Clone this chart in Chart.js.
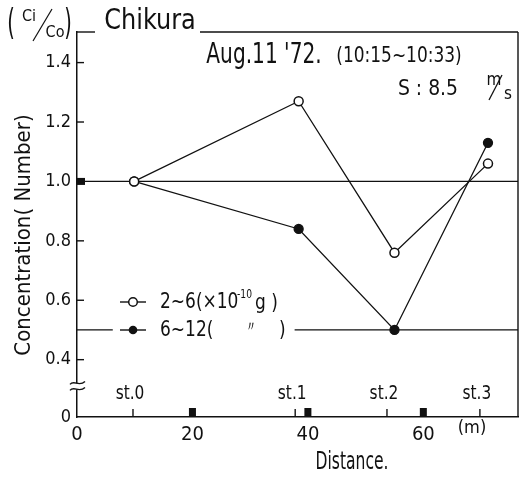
<!DOCTYPE html>
<html>
<head>
<meta charset="utf-8">
<script src="https://cdn.jsdelivr.net/npm/chart.js@4.4.1/dist/chart.umd.min.js"></script>
<style>
  html, body { margin: 0; padding: 0; background: #fff; }
  #wrap { width: 529px; height: 477px; }
</style>
</head>
<body>
<div id="wrap"><canvas id="chart" width="529" height="477"></canvas></div>
<script>
// Stations along the line (m)
const stations = ["st.0", "st.1", "st.2", "st.3"];
const stationDist = [9.7, 37.8, 53.7, 69.8];
const pointDist = [9.9, 38.4, 55.0, 71.2];

// Ci/Co for the two size classes
const small = [1.0, 1.27, 0.76, 1.06];   // 2~6 (x10^-10 g)
const large = [1.0, 0.84, 0.50, 1.13];   // 6~12

// Axes
const yTicks = [0.4, 0.6, 0.8, 1.0, 1.2, 1.4];
const xTicks = [0, 20, 40, 60];
const xMarks = [20, 40, 60];
const yMin = 0.207, yMax = 1.503;
const xMin = 0, xMax = 76.4;
const breakAt = 0.31;

// Reference lines (the 0.5 one is broken by the legend)
const refOne = [{ x: xMin, y: 1.0 }, { x: xMax, y: 1.0 }];
const refHalf = [{ x: xMin, y: 0.5 }, { x: 6.2, y: 0.5 }, { x: 6.3, y: null }, { x: 37.7, y: 0.5 }, { x: xMax, y: 0.5 }];

const FONT = '"DejaVu Sans Condensed", "DejaVu Sans", sans-serif';
const ink = "#111";

function pts(xs, ys) {
  return xs.map((x, i) => ({ x: x, y: ys[i] }));
}

function txt(ctx, s, x, y, size, opts = {}) {
  ctx.save();
  ctx.font = `${size}px ${FONT}`;
  ctx.fillStyle = ink;
  ctx.textAlign = opts.align || "left";
  ctx.textBaseline = "middle";
  ctx.translate(x, y);
  if (opts.rot) ctx.rotate(opts.rot);
  ctx.scale(opts.sx || 1, 1);
  ctx.fillText(s, 0, 0);
  ctx.restore();
}

function line(ctx, x1, y1, x2, y2, w) {
  ctx.beginPath();
  ctx.lineWidth = w || 1.4;
  ctx.strokeStyle = ink;
  ctx.moveTo(x1, y1);
  ctx.lineTo(x2, y2);
  ctx.stroke();
}

const whiteBg = {
  id: "whiteBg",
  beforeDraw(chart) {
    const ctx = chart.ctx;
    ctx.save();
    ctx.fillStyle = "#fff";
    ctx.fillRect(0, 0, chart.width, chart.height);
    ctx.restore();
  }
};

const decor = {
  id: "decor",
  afterDraw(chart) {
    const ctx = chart.ctx;
    const ca = chart.chartArea;
    const xs = chart.scales.x, ys = chart.scales.y;
    ctx.save();

    // frame: top (broken by title) and right side
    line(ctx, ca.left, ca.top, 95, ca.top);
    line(ctx, 200, ca.top, ca.right, ca.top);
    line(ctx, ca.right, ca.top, ca.right, ca.bottom);

    // inner y ticks
    yTicks.forEach(v => {
      const y = ys.getPixelForValue(v);
      line(ctx, ca.left, y, ca.left + 7, y);
    });

    // black marks at 1.0 and on x axis
    ctx.fillStyle = ink;
    const y1 = ys.getPixelForValue(1.0);
    ctx.fillRect(ca.left, y1 - 3.5, 8, 7);
    xMarks.forEach(v => {
      const x = xs.getPixelForValue(v);
      ctx.fillRect(x - 3.5, ca.bottom - 9, 7, 9);
    });

    // stations
    stations.forEach((s, i) => {
      const x = xs.getPixelForValue(stationDist[i]);
      line(ctx, x, ca.bottom, x, ca.bottom - 8);
      txt(ctx, s, x - 3, ca.bottom - 23, 19, { align: "center", sx: 0.9 });
    });

    // axis break
    const yb = ys.getPixelForValue(breakAt);
    ctx.fillStyle = "#fff";
    ctx.fillRect(ca.left - 2, yb - 3, 4, 6);
    [-3, 3].forEach(d => {
      ctx.beginPath();
      ctx.lineWidth = 1.4;
      ctx.strokeStyle = ink;
      ctx.moveTo(ca.left - 7, yb + d + 1);
      ctx.bezierCurveTo(ca.left - 3, yb + d - 4, ca.left + 2, yb + d + 4, ca.left + 8, yb + d - 2);
      ctx.stroke();
    });

    // axis titles and units
    txt(ctx, "(m)", 472, 428, 18, { align: "center" });
    txt(ctx, "Distance.", 352, 463, 24, { align: "center", sx: 0.72 });
    txt(ctx, "Concentration( Number)", 24, 235, 22, { align: "center", rot: -Math.PI / 2, sx: 1.0 });

    // Ci/Co
    txt(ctx, "(", 11, 25, 36, { align: "center", sx: 0.6 });
    txt(ctx, ")", 68, 25, 36, { align: "center", sx: 0.6 });
    txt(ctx, "Ci", 29, 17, 16, { align: "center" });
    txt(ctx, "Co", 55, 33, 16, { align: "center" });
    line(ctx, 33, 41, 52, 9, 1.2);

    // station name and conditions
    txt(ctx, "Chikura", 150, 21, 29, { align: "center", sx: 0.92 });
    txt(ctx, "Aug.11 '72.", 264, 56, 28, { align: "center", sx: 0.8 });
    txt(ctx, "(10:15~10:33)", 399, 57, 21, { align: "center", sx: 0.9 });
    txt(ctx, "S : 8.5", 428, 89, 22, { align: "center", sx: 0.95 });
    txt(ctx, "m", 494, 81, 17, { align: "center" });
    line(ctx, 489, 100, 502, 75, 1.3);
    txt(ctx, "s", 508, 95, 17, { align: "center" });

    // legend
    const lx1 = 120, lx2 = 146, lxc = 133;
    const ly1 = 302, ly2 = 330;
    line(ctx, lx1, ly1, lx2, ly1, 1.4);
    ctx.beginPath();
    ctx.arc(lxc, ly1, 4.3, 0, Math.PI * 2);
    ctx.fillStyle = "#fff";
    ctx.fill();
    ctx.lineWidth = 1.5;
    ctx.strokeStyle = ink;
    ctx.stroke();
    line(ctx, lx1, ly2, lx2, ly2, 1.4);
    ctx.beginPath();
    ctx.arc(lxc, ly2, 4.3, 0, Math.PI * 2);
    ctx.fillStyle = ink;
    ctx.fill();
    txt(ctx, "2~6(×10", 160, 303, 21, { sx: 0.9 });
    txt(ctx, "-10", 237, 295, 12, { sx: 0.85 });
    txt(ctx, "g )", 255, 304, 21, { sx: 0.9 });
    txt(ctx, "6~12(", 160, 331, 21, { sx: 0.9 });
    txt(ctx, "〃", 244, 327, 14);
    txt(ctx, ")", 279, 331, 21, { sx: 0.9 });

    ctx.restore();
  }
};

new Chart(document.getElementById("chart"), {
  type: "line",
  data: {
    datasets: [
      {
        label: "2~6 (×10⁻¹⁰g)",
        data: pts(pointDist, small),
        borderColor: ink,
        borderWidth: 1.3,
        pointRadius: 4.5,
        pointBackgroundColor: "#fff",
        pointBorderColor: ink,
        pointBorderWidth: 1.5,
        tension: 0
      },
      {
        label: "6~12 (〃)",
        data: pts(pointDist, large),
        borderColor: ink,
        borderWidth: 1.3,
        pointRadius: 4.5,
        pointBackgroundColor: ink,
        pointBorderColor: ink,
        tension: 0
      },
      {
        label: "ref 1.0",
        data: refOne,
        borderColor: ink,
        borderWidth: 1.2,
        pointRadius: 0
      },
      {
        label: "ref 0.5",
        data: refHalf,
        borderColor: ink,
        borderWidth: 1.2,
        pointRadius: 0,
        spanGaps: false
      }
    ]
  },
  options: {
    responsive: false,
    animation: false,
    devicePixelRatio: 1,
    layout: { autoPadding: false, padding: { top: 32, right: 11, left: 0, bottom: 0 } },
    plugins: { legend: { display: false }, tooltip: { enabled: false } },
    scales: {
      x: {
        type: "linear",
        min: xMin,
        max: xMax,
        grid: { display: false, drawTicks: false },
        border: { display: true, color: ink, width: 1.5 },
        afterBuildTicks: s => { s.ticks = xTicks.map(v => ({ value: v })); },
        afterFit: s => { s.height = 60; s.paddingLeft = 0; s.paddingRight = 0; },
        ticks: {
          color: ink,
          padding: 6,
          maxRotation: 0,
          font: { family: FONT, size: 20 },
          callback: v => String(v)
        }
      },
      y: {
        type: "linear",
        min: yMin,
        max: yMax,
        grid: { display: false, drawTicks: false },
        border: { display: true, color: ink, width: 1.5 },
        afterBuildTicks: s => { s.ticks = [yMin].concat(yTicks).map(v => ({ value: v })); },
        afterFit: s => { s.width = 77; s.paddingTop = 0; s.paddingBottom = 0; },
        ticks: {
          color: ink,
          padding: 6,
          font: { family: FONT, size: 18 },
          callback: v => (v === yMin ? "0" : v.toFixed(1))
        }
      }
    }
  },
  plugins: [whiteBg, decor]
});
</script>
</body>
</html>
